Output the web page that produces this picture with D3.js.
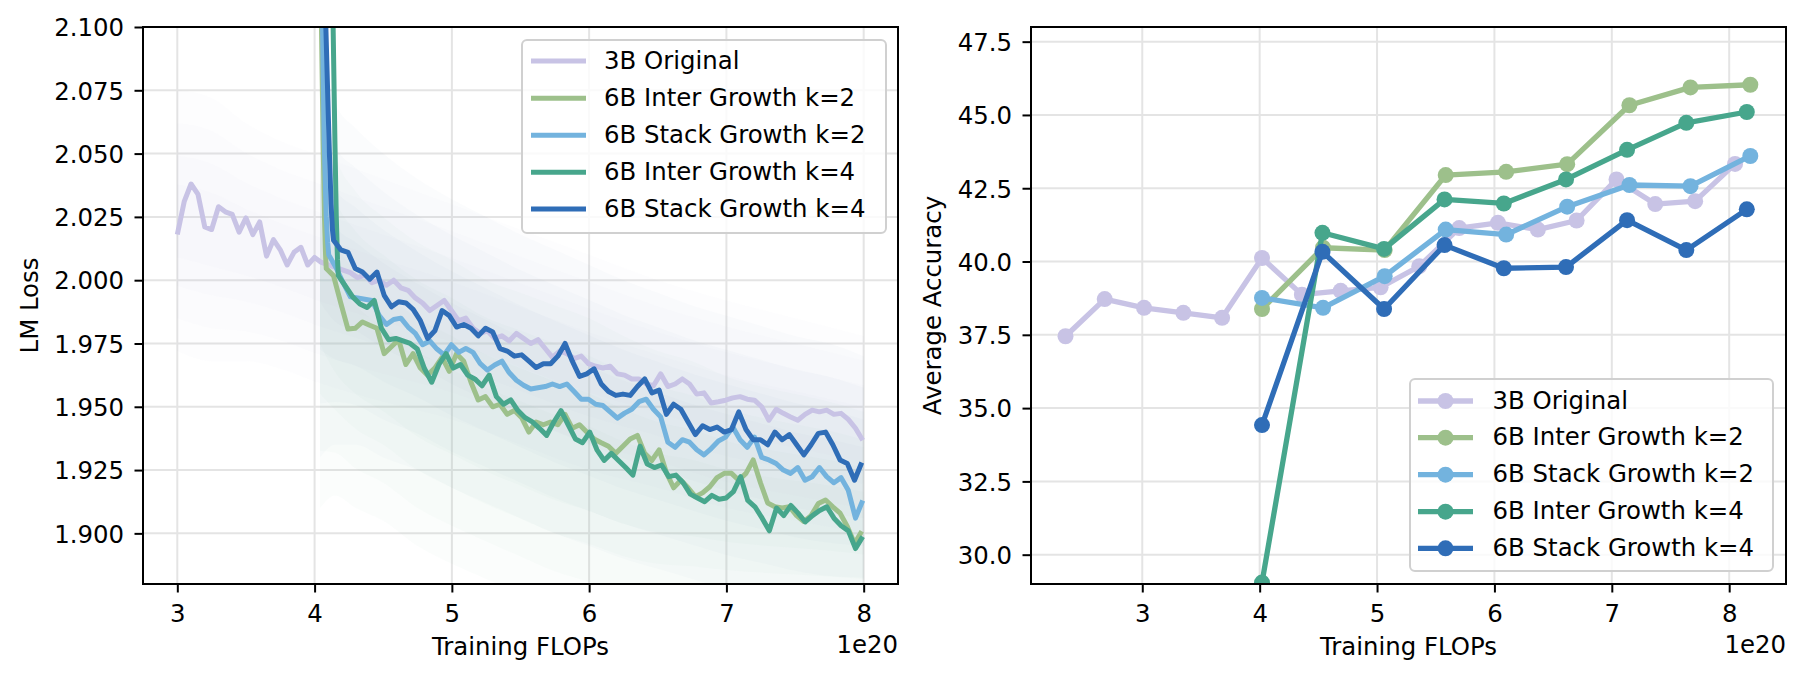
<!DOCTYPE html>
<html><head><meta charset="utf-8">
<script src="https://cdn.jsdelivr.net/npm/d3@7"></script>
<style>
body{margin:0;background:#fff}
svg{display:block}
text{font-family:"DejaVu Sans",sans-serif;fill:#000}
</style>
</head><body>
<svg id="c" width="1800" height="680"></svg>
<script>
// ---------------- DATA ----------------
const seriesNames = ["3B Original","6B Inter Growth k=2","6B Stack Growth k=2","6B Inter Growth k=4","6B Stack Growth k=4"];
const xTickVals = [3,4,5,6,7,8];
const lossTicks = [1.900,1.925,1.950,1.975,2.000,2.025,2.050,2.075,2.100];
const accTicks = [30.0,32.5,35.0,37.5,40.0,42.5,45.0,47.5];

// Left panel: LM loss (smoothed), x in units of 1e20 FLOPs
const lossOrigEarlyRange = [3.00, 4.05];
const lossOrigEarly = [2.018,2.031,2.038,2.034,2.021,2.020,2.029,2.027,2.026,2.019,2.0246,2.018,2.023,2.0095,2.016,2.012,2.006,2.011,2.013,2.006,2.009,2.007];
const lossOrigLateRange = [4.208, 7.993];
const lossOrigLate = [2.004,2.003,2.001,2.002,1.999,2.000,1.998,2.000,1.997,1.996,1.993,1.991,1.988,1.990,1.992,1.988,1.984,1.985,1.981,1.979,1.980,1.977,1.978,1.976,1.979,1.977,1.975,1.9765,1.973,1.9695,1.972,1.971,1.969,1.970,1.967,1.966,1.9653,1.966,1.963,1.9625,1.961,1.961,1.959,1.9583,
1.963,1.958,1.959,1.961,1.959,1.955,1.9555,1.9515,1.952,1.9526,1.9535,1.954,1.953,1.9526,1.950,1.9447,1.949,1.9474,1.946,1.9447,1.947,1.9487,1.948,1.9487,1.947,1.9474,1.945,1.9415,1.9368];

const headInterK2X = [4.035,4.050,4.062,4.072,4.080];
const headInterK2Y = [2.40,2.10,2.055,2.025,2.010];
const lossInterK2Range = [4.085, 7.986];
const lossInterK2 = [2.0046,2.0018,1.991,1.9807,1.981,1.9835,1.9822,1.981,1.971,1.9737,1.9765,1.9667,1.971,1.9653,1.9625,1.9653,1.9695,1.964,1.971,1.968,1.9597,1.9527,1.954,1.950,1.951,1.947,1.9485,1.9457,1.940,1.944,1.9429,1.944,1.9429,1.947,1.9415,1.9429,1.940,1.9373,1.9358,1.9344,1.9316,1.9344,1.9373,1.9387,1.9316,1.9288,
1.933,1.924,1.918,1.921,1.918,1.9145,1.916,1.9184,1.922,1.9237,1.9237,1.921,1.9237,1.929,1.920,1.912,1.9105,1.910,1.9105,1.907,1.9047,1.907,1.9118,1.9132,1.9105,1.908,1.9027,1.896,1.9008];

const headStackK2X = [4.045,4.058,4.070,4.085,4.095];
const headStackK2Y = [2.40,2.10,2.055,2.025,2.015];
const lossStackK2Range = [4.103, 7.993];
const lossStackK2 = [2.010,2.005,1.999,1.9934,1.993,1.9925,1.992,1.986,1.9825,1.9845,1.985,1.9815,1.979,1.9745,1.976,1.9728,1.9705,1.9745,1.9715,1.973,1.9715,1.967,1.9645,1.9665,1.968,1.9635,1.9605,1.9585,1.957,1.9575,1.958,1.959,1.958,1.959,1.956,1.953,1.953,1.951,1.9505,1.948,1.9455,1.9475,1.949,1.952,1.953,1.949,
1.946,1.936,1.934,1.937,1.936,1.933,1.931,1.9335,1.9365,1.938,1.942,1.937,1.934,1.938,1.930,1.929,1.9276,1.925,1.9237,1.926,1.921,1.9224,1.926,1.9224,1.920,1.922,1.917,1.906,1.913];

const headInterK4X = [4.120,4.135,4.148,4.158,4.167];
const headInterK4Y = [2.40,2.10,2.055,2.025,2.008];
const lossInterK4Range = [4.173, 7.993];
const lossInterK4 = [2.0018,1.9976,1.9934,1.9906,1.9892,1.992,1.981,1.9765,1.977,1.976,1.975,1.9728,1.965,1.9597,1.9667,1.971,1.9653,1.9667,1.9625,1.961,1.9583,1.9625,1.954,1.951,1.9527,1.9485,1.9457,1.944,1.9415,1.9387,1.944,1.9485,1.9429,1.9373,1.9358,1.940,1.933,1.9288,1.9316,1.9288,1.926,1.923,1.9344,1.9274,1.926,
1.927,1.9224,1.923,1.920,1.9155,1.914,1.9125,1.915,1.9135,1.914,1.9165,1.9224,1.913,1.9105,1.906,1.901,1.910,1.907,1.911,1.908,1.9045,1.907,1.909,1.9105,1.906,1.903,1.901,1.894,1.8987];

const headStackK4X = [4.070,4.082,4.105,4.120,4.130];
const headStackK4Y = [2.40,2.10,2.055,2.030,2.020];
const lossStackK4Range = [4.138, 7.986];
const lossStackK4 = [2.0158,2.012,2.011,2.0046,2.0032,2.0004,2.0032,1.994,1.9895,1.9915,1.991,1.9885,1.984,1.977,1.980,1.988,1.986,1.9815,1.9825,1.981,1.978,1.981,1.9795,1.973,1.972,1.970,1.9705,1.968,1.9655,1.967,1.967,1.970,1.975,1.968,1.962,1.963,1.965,1.959,1.956,1.9545,1.955,1.9545,1.958,1.961,1.9555,
1.9566,1.947,1.951,1.949,1.944,1.939,1.9425,1.941,1.942,1.940,1.941,1.948,1.941,1.937,1.937,1.935,1.940,1.937,1.939,1.935,1.931,1.935,1.9395,1.940,1.935,1.929,1.9276,1.921,1.928];

// faint raw (unsmoothed) loss envelopes
const rawOrigX  = [3.0,3.25,3.5,3.75,4.0,4.5,5.0,5.5,6.0,6.5,7.0,7.5,8.0];
const rawOrigHi = [2.075,2.072,2.062,2.055,2.050,2.040,2.030,2.020,2.010,2.000,1.992,1.985,1.978];
const rawOrigLo = [1.972,1.968,1.968,1.965,1.960,1.952,1.945,1.935,1.925,1.918,1.910,1.905,1.900];
const raw6BX      = [4.04,4.15,4.3,4.5,4.75,5.0,5.25,5.5,5.75,6.0,6.25,6.5,6.75,7.0,7.25,7.5,7.75,8.0];
const rawStackHi  = [2.10,2.07,2.06,2.05,2.04,2.032,2.025,2.018,2.012,2.006,2.000,1.995,1.990,1.986,1.982,1.978,1.975,1.970];
const rawStackLo  = [1.93,1.935,1.935,1.93,1.925,1.918,1.912,1.906,1.900,1.895,1.890,1.886,1.882,1.878,1.875,1.872,1.870,1.870];
const rawInterHi  = [2.09,2.05,2.035,2.025,2.015,2.008,2.000,1.995,1.990,1.985,1.978,1.972,1.968,1.962,1.958,1.955,1.952,1.948];
const rawInterLo  = [1.91,1.915,1.91,1.905,1.895,1.888,1.882,1.876,1.870,1.866,1.862,1.860,1.860,1.860,1.860,1.860,1.860,1.860];

// Right panel: average accuracy
const accOrigX = [2.346,2.68,3.015,3.35,3.68,4.02,4.36,4.69,5.03,5.36,5.70,6.03,6.37,6.70,7.04,7.37,7.71,8.05];
const accOrig  = [37.45,38.72,38.42,38.25,38.08,40.12,38.87,39.00,39.12,39.84,41.14,41.32,41.09,41.40,42.80,41.96,42.06,43.33];
const accK2X = [4.02,4.54,5.065,5.585,6.10,6.62,7.15,7.67,8.18];
const accK4X = [4.02,4.535,5.06,5.575,6.08,6.61,7.13,7.635,8.15];
const accInterK2 = [38.38,40.47,40.39,42.95,43.06,43.32,45.33,45.94,46.03];
const accStackK2 = [38.76,38.42,39.50,41.09,40.92,41.87,42.61,42.57,43.60];
const accInterK4 = [29.05,40.98,40.43,42.12,41.98,42.80,43.81,44.73,45.10];
const accStackK4 = [34.42,40.33,38.38,40.56,39.77,39.81,41.41,40.39,41.78];

// ---------------- STYLE ----------------
const colors = ["#c8c3e5","#9dc08b","#73b3de","#47a68c","#2f6db7"];
const FS = 24.4;
const LW_LOSS = 5, LW_ACC = 5.3, MR = 8;
const svg = d3.select("#c");

function spread(range, vals){
  const n = vals.length;
  return vals.map((v,i)=>[range[0] + i*(range[1]-range[0])/(n-1), v]);
}
function zip(xs, ys){ return xs.map((x,i)=>[x, ys[i]]); }

const lossSeries = [
  spread(lossOrigEarlyRange, lossOrigEarly).concat(spread(lossOrigLateRange, lossOrigLate)),
  zip(headInterK2X, headInterK2Y).concat(spread(lossInterK2Range, lossInterK2)),
  zip(headStackK2X, headStackK2Y).concat(spread(lossStackK2Range, lossStackK2)),
  zip(headInterK4X, headInterK4Y).concat(spread(lossInterK4Range, lossInterK4)),
  zip(headStackK4X, headStackK4Y).concat(spread(lossStackK4Range, lossStackK4))
];
const accSeries = [
  zip(accOrigX, accOrig), zip(accK2X, accInterK2), zip(accK2X, accStackK2),
  zip(accK4X, accInterK4), zip(accK4X, accStackK4)
];

function setupPanel(P, xDomain, yDomain, yTicks, yFmt, yLabel, yLabelX, id){
  const x = d3.scaleLinear().domain(xDomain).range([P.x0, P.x1]);
  const y = d3.scaleLinear().domain(yDomain).range([P.y1, P.y0]);
  const g = svg.append("g");
  svg.append("clipPath").attr("id", id).append("rect")
    .attr("x", P.x0).attr("y", P.y0).attr("width", P.x1-P.x0).attr("height", P.y1-P.y0);
  const grid = g.append("g").attr("stroke", "#e4e4e4").attr("stroke-width", 2);
  grid.selectAll(".gx").data(xTickVals).join("line")
    .attr("x1", d=>x(d)).attr("x2", d=>x(d)).attr("y1", P.y0).attr("y2", P.y1);
  grid.selectAll(".gy").data(yTicks).join("line")
    .attr("y1", d=>y(d)).attr("y2", d=>y(d)).attr("x1", P.x0).attr("x2", P.x1);
  const plot = g.append("g").attr("clip-path", `url(#${id})`);
  const ax = g.append("g").attr("transform", `translate(0,${P.y1})`)
    .call(d3.axisBottom(x).tickValues(xTickVals).tickSize(8.5).tickPadding(12).tickFormat(d3.format("d")));
  const ay = g.append("g").attr("transform", `translate(${P.x0},0)`)
    .call(d3.axisLeft(y).tickValues(yTicks).tickSize(8.5).tickPadding(10.5).tickFormat(d3.format(yFmt)));
  [ax, ay].forEach(a=>{
    a.attr("font-size", null).attr("font-family", null);
    a.select(".domain").remove();
    a.selectAll(".tick line").attr("stroke", "#000").attr("stroke-width", 2);
    a.selectAll(".tick text").style("font-size", FS+"px");
  });
  ay.selectAll(".tick text").attr("dy", "0.36em");
  g.append("text").attr("x", (P.x0+P.x1)/2).attr("y", 655).attr("text-anchor", "middle")
    .style("font-size", FS+"px").text("Training FLOPs");
  g.append("text").attr("x", P.x1).attr("y", 653).attr("text-anchor", "end")
    .style("font-size", FS+"px").text("1e20");
  g.append("text").attr("transform", `translate(${yLabelX},${(P.y0+P.y1)/2}) rotate(-90)`)
    .attr("text-anchor", "middle").style("font-size", FS+"px").text(yLabel);
  return {x, y, g, plot};
}

// ---------------- LEFT PANEL ----------------
const L = {x0:143, x1:898, y0:27, y1:584};
const left = setupPanel(L, [2.75, 8.25], [1.88, 2.1], lossTicks, ".3f", "LM Loss", 38, "clipL");
function softBand(xs, hi, lo, color, op){
  [1, 0.75, 0.5, 0.28].forEach(k=>{
    const a = d3.area()
      .x((d,i)=>left.x(xs[i]))
      .y0((d,i)=>left.y((hi[i]+lo[i])/2 - k*(hi[i]-lo[i])/2))
      .y1((d,i)=>left.y((hi[i]+lo[i])/2 + k*(hi[i]-lo[i])/2))
      .curve(d3.curveMonotoneX);
    left.plot.append("path").attr("d", a(xs)).attr("fill", color).attr("opacity", op);
  });
}
softBand(rawOrigX, rawOrigHi, rawOrigLo, "#c8c3e5", 0.035);
softBand(raw6BX, rawStackHi, rawStackLo, "#8aa9c9", 0.035);
softBand(raw6BX, rawInterHi, rawInterLo, "#86bfa8", 0.035);
const lossLine = d3.line().x(d=>left.x(d[0])).y(d=>left.y(d[1]));
lossSeries.forEach((s,i)=>{
  left.plot.append("path").attr("d", lossLine(s)).attr("fill", "none")
    .attr("stroke", colors[i]).attr("stroke-width", LW_LOSS).attr("stroke-linejoin", "round");
});
svg.append("rect").attr("x", L.x0).attr("y", L.y0).attr("width", L.x1-L.x0).attr("height", L.y1-L.y0)
  .attr("fill", "none").attr("stroke", "#000").attr("stroke-width", 2);

// ---------------- RIGHT PANEL ----------------
const R = {x0:1031, x1:1786, y0:27, y1:584};
const right = setupPanel(R, [2.052, 8.484], [29, 48], accTicks, ".1f", "Average Accuracy", 941, "clipR");
const accLine = d3.line().x(d=>right.x(d[0])).y(d=>right.y(d[1]));
accSeries.forEach((s,i)=>{
  const gg = right.plot.append("g");
  gg.append("path").attr("d", accLine(s)).attr("fill", "none")
    .attr("stroke", colors[i]).attr("stroke-width", LW_ACC).attr("stroke-linejoin", "round");
  gg.selectAll("circle").data(s).join("circle")
    .attr("cx", d=>right.x(d[0])).attr("cy", d=>right.y(d[1])).attr("r", MR).attr("fill", colors[i]);
});
svg.append("rect").attr("x", R.x0).attr("y", R.y0).attr("width", R.x1-R.x0).attr("height", R.y1-R.y0)
  .attr("fill", "none").attr("stroke", "#000").attr("stroke-width", 2);

// ---------------- LEGENDS ----------------
function legend(box, rows, hx0, hx1, tx, markers){
  const g = svg.append("g");
  g.append("rect").attr("x", box[0]).attr("y", box[1]).attr("width", box[2]-box[0]).attr("height", box[3]-box[1])
    .attr("rx", 5).attr("fill", "#fff").attr("fill-opacity", 0.8).attr("stroke", "#d0d0d0").attr("stroke-width", 2);
  seriesNames.forEach((n,i)=>{
    const yy = rows[i];
    g.append("line").attr("x1", hx0).attr("x2", hx1).attr("y1", yy).attr("y2", yy)
      .attr("stroke", colors[i]).attr("stroke-width", markers ? LW_ACC : LW_LOSS);
    if (markers) g.append("circle").attr("cx", (hx0+hx1)/2).attr("cy", yy).attr("r", MR).attr("fill", colors[i]);
    g.append("text").attr("x", tx).attr("y", yy + 7.5).style("font-size", FS+"px").text(n);
  });
}
legend([522, 40, 886, 233], [61, 98.3, 135.3, 172.3, 209], 531, 586, 604, false);
legend([1410, 379, 1773, 571], [401, 437.7, 474.7, 511.7, 548.3], 1418, 1473, 1492.6, true);
</script>
</body></html>
